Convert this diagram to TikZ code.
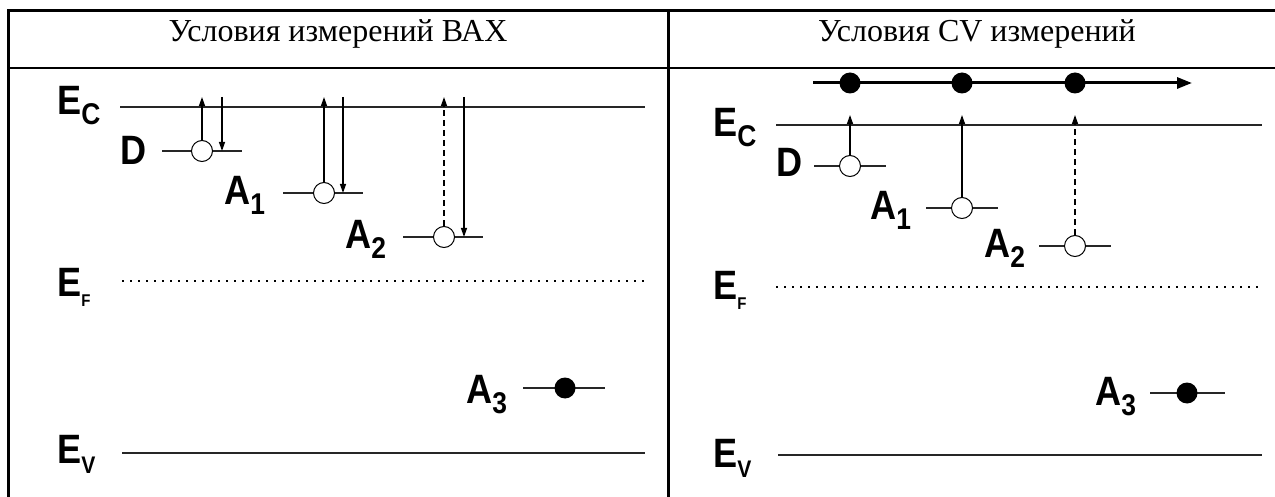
\documentclass[tikz,border=0pt]{standalone}
\usepackage{fontspec}
\setmainfont{Liberation Serif}
\newfontfamily\lblfont{Liberation Sans}[FakeStretch=0.88]
\usetikzlibrary{arrows.meta, positioning}

\newcommand{\lev}[3][30]{#2\raisebox{-10pt}{\fontsize{#1}{#1}\selectfont #3}}

\begin{document}
\begin{tikzpicture}[x=1pt, y=-1pt,
  frame/.style={line width=3pt},
  hdrline/.style={line width=1.6pt},
  hdr/.style={font=\fontsize{32}{32}\selectfont, inner sep=0pt, anchor=base},
  band/.style={line width=2.2pt, draw=black!85},
  fermi/.style={line width=2.4pt, dash pattern=on 2.4pt off 5.6pt},
  level/.style={line width=2pt, draw=black!85},
  lbl/.style={font=\lblfont\bfseries\fontsize{41}{41}\selectfont,
    inner sep=0pt, anchor=base west},
  trap/.style={circle, draw, fill=white, line width=1pt,
    minimum size=21pt, inner sep=0pt},
  filled/.style={circle, fill=black, minimum size=21pt, inner sep=0pt},
  jump/.style={->, >={Triangle[length=9pt,width=6pt]}, line width=1.3pt},
  hop/.style={jump, dash pattern=on 6pt off 4pt},
  flow/.style={->, >={Triangle[length=15pt,width=11pt]}, line width=3pt}
]
\useasboundingbox (0,0) rectangle (1275,497);

%% ── Table ──
\draw[frame] (8,497) -- (8,11) -- (1275,11);
\draw[frame] (668,11) -- (668,497);
\draw[hdrline] (8,68) -- (1275,68);
\node[hdr] (hdrL) at (338,42) {Условия измерений ВАХ};
\node[hdr] (hdrR) at (977,42) {Условия CV измерений};

%% ── Left panel: bands ──
\draw[band] (120,107) -- (645,107);
\draw[fermi] (122,281) -- (645,281);
\draw[band] (122,453) -- (645,453);
\node[lbl] (ecL) at (57,115) {\lev{E}{C}};
\node[lbl] (efL) at (57,296) {\lev[17]{E}{F}};
\node[lbl] (evL) at (57,463) {\lev[24]{E}{V}};

%% ── Left panel: levels ──
\coordinate (dLc) at (202,151);
\coordinate (a1Lc) at (324,193);
\coordinate (a2Lc) at (444,237);
\coordinate (a3Lc) at (565,388);
\draw[level] ([xshift=-40pt]dLc) -- ([xshift=40pt]dLc);
\draw[level] ([xshift=-41pt]a1Lc) -- ([xshift=39pt]a1Lc);
\draw[level] ([xshift=-41pt]a2Lc) -- ([xshift=39pt]a2Lc);
\draw[level] ([xshift=-42pt]a3Lc) -- ([xshift=40pt]a3Lc);
\node[trap] (dL) at (dLc) {};
\node[trap] (a1L) at (a1Lc) {};
\node[trap] (a2L) at (a2Lc) {};
\node[filled] (a3L) at (a3Lc) {};
\node[lbl] (dLab) at (120,165) {D};
\node[lbl] (a1Lab) at (224,205) {\lev{A}{1}};
\node[lbl] (a2Lab) at (345,249) {\lev{A}{2}};
\node[lbl] (a3Lab) at (466,403) {\lev{A}{3}};

%% ── Left panel: emission and capture ──
\coordinate (topL) at (0,97);
\coordinate (capD) at (222,97);
\coordinate (capA1) at (343,97);
\coordinate (capA2) at (464,97);
\draw[jump] (dL.north) -- (dL.north |- topL);
\draw[jump] (a1L.north) -- (a1L.north |- topL);
\draw[hop] (a2L.north) -- (a2L.north |- topL);
\draw[jump] (capD) -- (capD |- dL.center);
\draw[jump] (capA1) -- (capA1 |- a1L.center);
\draw[jump] (capA2) -- (capA2 |- a2L.center);

%% ── Right panel: bands ──
\draw[band] (776,125) -- (1262,125);
\draw[fermi] (776,287) -- (1262,287);
\draw[band] (778,455) -- (1262,455);
\node[lbl] (ecR) at (713,137) {\lev{E}{C}};
\node[lbl] (efR) at (713,299) {\lev[17]{E}{F}};
\node[lbl] (evR) at (713,467) {\lev[24]{E}{V}};

%% ── Right panel: levels ──
\coordinate (dRc) at (850,166);
\coordinate (a1Rc) at (962,208);
\coordinate (a2Rc) at (1075,246);
\coordinate (a3Rc) at (1187,393);
\draw[level] ([xshift=-36pt]dRc) -- ([xshift=36pt]dRc);
\draw[level] ([xshift=-36pt]a1Rc) -- ([xshift=36pt]a1Rc);
\draw[level] ([xshift=-36pt]a2Rc) -- ([xshift=36pt]a2Rc);
\draw[level] ([xshift=-37pt]a3Rc) -- ([xshift=38pt]a3Rc);
\node[trap] (dR) at (dRc) {};
\node[trap] (a1R) at (a1Rc) {};
\node[trap] (a2R) at (a2Rc) {};
\node[filled] (a3R) at (a3Rc) {};
\node[lbl] (dRab) at (776,177) {D};
\node[lbl] (a1Rab) at (870,220) {\lev{A}{1}};
\node[lbl] (a2Rab) at (984,258) {\lev{A}{2}};
\node[lbl] (a3Rab) at (1095,405) {\lev{A}{3}};

%% ── Right panel: emission and drift ──
\coordinate (topR) at (0,115);
\draw[jump] (dR.north) -- (dR.north |- topR);
\draw[jump] (a1R.north) -- (a1R.north |- topR);
\draw[hop] (a2R.north) -- (a2R.north |- topR);
\coordinate (flowS) at (813,83);
\coordinate (flowE) at (1192,83);
\draw[flow] (flowS) -- (flowE);
\node[filled] (e1) at (dR |- flowS) {};
\node[filled] (e2) at (a1R |- flowS) {};
\node[filled] (e3) at (a2R |- flowS) {};

\end{tikzpicture}
\end{document}
